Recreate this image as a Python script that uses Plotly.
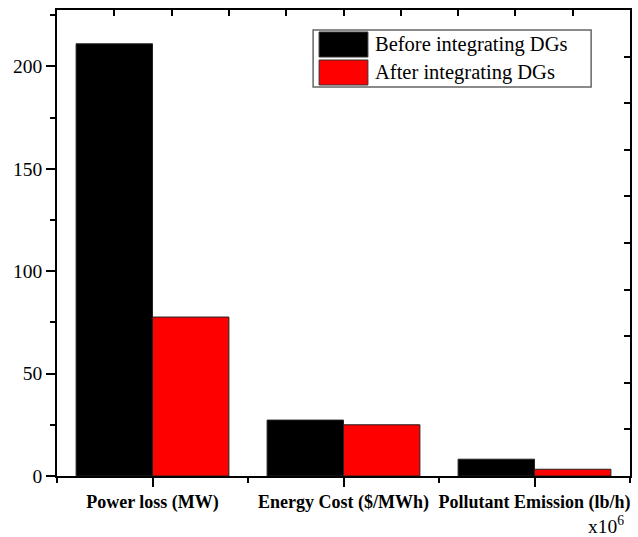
import plotly.graph_objects as go

categories = ["Power loss (MW)", "Energy Cost ($/MWh)", "Pollutant Emission (lb/h)"]
series_names = ["Before integrating DGs", "After integrating DGs"]
before_vals = [211, 27.3, 8.2]
after_vals = [77.6, 25.0, 3.3]
colors = ["#000000", "#ff0000"]
y_ticks = [0, 50, 100, 150, 200]

W, H = 638, 537
L, R, T, B = 57, 6, 10, 61
pw, ph = W - L - R, H - T - B

def px2paper_x(px):
    return (px - L) / pw

def px2paper_y(py):
    return (H - B - py) / ph

xs = list(range(len(categories)))
fig = go.Figure()
for name, vals, col in zip(series_names, [before_vals, after_vals], colors):
    fig.add_trace(go.Bar(x=xs, y=vals, name=name, marker=dict(color=col, line=dict(color="#222222", width=1)),
                         showlegend=False))

serif = "Liberation Serif, Times New Roman, serif"
fig.update_layout(
    width=W, height=H, margin=dict(l=L, r=R, t=T, b=B),
    paper_bgcolor="white", plot_bgcolor="white",
    barmode="group", bargap=0.2, bargroupgap=0,
    font=dict(family=serif, color="black"),
    xaxis=dict(range=[-0.5, 2.5], tickvals=xs, ticktext=categories,
               tickfont=dict(family=serif, size=18, color="black", weight="bold"),
               ticks="outside", ticklen=9, tickwidth=1.5, tickcolor="black",
               minor=dict(tickvals=[-0.5, 0.5, 1.5, 2.5], ticks="outside", ticklen=5, tickwidth=1.5, tickcolor="black"),
               showline=True, linecolor="black", linewidth=1.5, mirror=True,
               showgrid=False, zeroline=False, fixedrange=True),
    yaxis=dict(range=[0, 227.5], tickvals=y_ticks,
               tickfont=dict(family=serif, size=19.5, color="black"),
               ticks="outside", ticklen=9, tickwidth=1.5, tickcolor="black",
               minor=dict(tickvals=[25, 75, 125, 175, 225], ticks="outside", ticklen=5, tickwidth=1.5, tickcolor="black"),
               showline=True, linecolor="black", linewidth=1.5, mirror=True,
               showgrid=False, zeroline=False),
    xaxis2=dict(overlaying="x", side="top", range=[0, 10], dtick=1, ticks="inside", ticklen=6,
                tickwidth=1.5, tickcolor="black", showticklabels=False, showgrid=False, zeroline=False),
    yaxis2=dict(overlaying="y", side="right", range=[0, 10], dtick=1, ticks="inside", ticklen=6,
                tickwidth=1.5, tickcolor="black", showticklabels=False, showgrid=False, zeroline=False),
)
# invisible trace to activate secondary axes
fig.add_trace(go.Scatter(x=[0, 10], y=[0, 10], xaxis="x2", yaxis="y2", mode="markers",
                         marker=dict(opacity=0), showlegend=False, hoverinfo="skip"))

# manual legend
shapes = [dict(type="rect", xref="paper", yref="paper",
               x0=px2paper_x(314), x1=px2paper_x(593), y0=px2paper_y(87), y1=px2paper_y(30),
               line=dict(color="#666666", width=1.5), fillcolor="white", layer="above")]
rows = [(32, 57), (60, 85)]
annotations = []
for (y0, y1), name, col in zip(rows, series_names, colors):
    shapes.append(dict(type="rect", xref="paper", yref="paper",
                       x0=px2paper_x(320), x1=px2paper_x(369), y0=px2paper_y(y1), y1=px2paper_y(y0),
                       line=dict(color="#333333", width=1), fillcolor=col, layer="above"))
    annotations.append(dict(xref="paper", yref="paper", x=px2paper_x(374), y=px2paper_y((y0 + y1) / 2),
                            text=name, showarrow=False, xanchor="left", yanchor="middle",
                            font=dict(family=serif, size=20.5, color="black")))
annotations.append(dict(xref="paper", yref="paper", x=px2paper_x(628), y=px2paper_y(539),
                        text="x10<sup>6</sup>", showarrow=False, xanchor="right", yanchor="bottom",
                        font=dict(family=serif, size=19.5, color="black")))
fig.update_layout(shapes=shapes, annotations=annotations)

fig.write_html("out.html")
